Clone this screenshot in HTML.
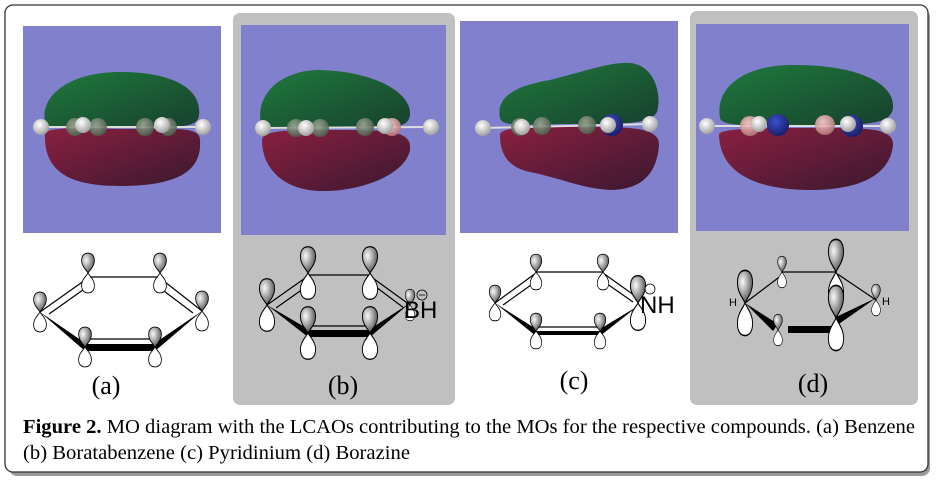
<!DOCTYPE html>
<html><head><meta charset="utf-8"><style>
html,body{margin:0;padding:0;background:#fff;width:936px;height:482px;overflow:hidden}
svg{display:block}
</style></head><body>
<svg width="936" height="482" viewBox="0 0 936 482" xmlns="http://www.w3.org/2000/svg">
<defs>
<radialGradient id="lg" cx="0.35" cy="0.35" r="0.8"><stop offset="0" stop-color="#fafafa"/><stop offset="0.5" stop-color="#999"/><stop offset="1" stop-color="#333"/></radialGradient>
<linearGradient id="gr" x1="0" y1="0" x2="1" y2="1"><stop offset="0" stop-color="#1f7a3c"/><stop offset="1" stop-color="#17402e"/></linearGradient>
<linearGradient id="rd" x1="0" y1="0" x2="1" y2="1"><stop offset="0" stop-color="#8a2040"/><stop offset="1" stop-color="#3a1830"/></linearGradient>
<radialGradient id="hw" cx="0.4" cy="0.35" r="0.7"><stop offset="0" stop-color="#fff"/><stop offset="1" stop-color="#9a9a9a"/></radialGradient>
<radialGradient id="cg" cx="0.4" cy="0.35" r="0.7"><stop offset="0" stop-color="#9aa894"/><stop offset="1" stop-color="#4a5a48"/></radialGradient>
<radialGradient id="nb" cx="0.4" cy="0.35" r="0.7"><stop offset="0" stop-color="#3a50d0"/><stop offset="1" stop-color="#1a1a60"/></radialGradient>
<radialGradient id="bp" cx="0.4" cy="0.35" r="0.7"><stop offset="0" stop-color="#ffd0d0"/><stop offset="1" stop-color="#b07070"/></radialGradient>
<g id="p">
<path d="M0,0 C-2,3 -8,7 -8,13 C-8,19 -4,21 0,21 C4,21 8,19 8,13 C8,7 2,3 0,0Z" fill="#fff" stroke="#000" stroke-width="1"/>
<path d="M0,0 C-2,-3 -8,-7 -8,-13 C-8,-19 -4,-21 0,-21 C4,-21 8,-19 8,-13 C8,-7 2,-3 0,0Z" fill="url(#lg)" stroke="#000" stroke-width="1"/>
</g>
</defs>
<rect x="9" y="9" width="921" height="467" rx="8" fill="#999"/>
<rect x="5" y="5" width="923" height="467" rx="8" fill="#fff" stroke="#333" stroke-width="1.3"/>
<rect x="233" y="13" width="222" height="392" rx="7" fill="#c0c0c0"/>
<rect x="690" y="11" width="228" height="394" rx="7" fill="#c0c0c0"/>
<rect x="23" y="26" width="198" height="207" fill="#8080cc"/>
<rect x="241" y="25" width="205" height="210" fill="#8080cc"/>
<rect x="460" y="21" width="218" height="212" fill="#8080cc"/>
<rect x="696" y="24" width="213" height="207" fill="#8080cc"/>

<path d="M45,122 C40,95 70,72 120,72 C175,72 202,90 199,115 C198,128 180,128 120,127 C70,127 47,130 45,122Z" fill="url(#gr)"/>
<path d="M45,135 C45,127 70,128 120,129 C175,129 200,126 200,140 C202,170 180,186 120,186 C70,186 44,172 45,135Z" fill="url(#rd)"/>
<line x1="41" y1="127" x2="203" y2="127" stroke="#ddd" stroke-width="2"/>
<circle cx="75" cy="127" r="9" fill="url(#cg)" opacity="0.9"/><circle cx="98" cy="127" r="9" fill="url(#cg)" opacity="0.9"/>
<circle cx="145" cy="127" r="9" fill="url(#cg)" opacity="0.9"/><circle cx="168" cy="127" r="9" fill="url(#cg)" opacity="0.9"/>
<circle cx="41" cy="127" r="8" fill="url(#hw)"/><circle cx="83" cy="125" r="8" fill="url(#hw)"/><circle cx="162" cy="125" r="8" fill="url(#hw)"/><circle cx="203" cy="127" r="8" fill="url(#hw)"/>

<path d="M261,124 C255,95 280,70 320,70 C380,72 412,95 410,115 C408,130 390,128 330,128 C290,128 263,132 261,124Z" fill="url(#gr)"/>
<path d="M262,140 C262,130 290,130 330,130 C390,130 412,130 410,150 C405,175 360,192 320,191 C285,190 262,170 262,140Z" fill="url(#rd)"/>
<line x1="263" y1="128" x2="431" y2="127" stroke="#ddd" stroke-width="2"/>
<circle cx="296" cy="128" r="9" fill="url(#cg)" opacity="0.9"/><circle cx="320" cy="128" r="9" fill="url(#cg)" opacity="0.9"/>
<circle cx="365" cy="127" r="9" fill="url(#cg)" opacity="0.9"/><circle cx="392" cy="127" r="9" fill="url(#bp)" opacity="0.9"/>
<circle cx="263" cy="128" r="8" fill="url(#hw)"/><circle cx="306" cy="128" r="8" fill="url(#hw)"/><circle cx="385" cy="126" r="8" fill="url(#hw)"/><circle cx="431" cy="127" r="8" fill="url(#hw)"/>

<path d="M500,118 C495,95 520,85 550,80 C590,70 610,62 630,63 C655,65 662,95 657,112 C650,125 620,124 570,124 C530,124 502,128 500,118Z" fill="url(#gr)"/>
<path d="M500,135 C500,127 530,127 570,127 C620,127 660,125 659,145 C657,175 640,190 610,190 C580,188 560,178 530,172 C505,167 500,150 500,135Z" fill="url(#rd)"/>
<line x1="483" y1="128" x2="650" y2="124" stroke="#ddd" stroke-width="2"/>
<circle cx="520" cy="127" r="9" fill="url(#cg)" opacity="0.9"/><circle cx="542" cy="126" r="9" fill="url(#cg)" opacity="0.9"/>
<circle cx="587" cy="125" r="9" fill="url(#cg)" opacity="0.9"/><circle cx="612" cy="125" r="11" fill="url(#nb)"/>
<circle cx="483" cy="128" r="8" fill="url(#hw)"/><circle cx="522" cy="127" r="8" fill="url(#hw)"/><circle cx="608" cy="125" r="8" fill="url(#hw)"/><circle cx="650" cy="124" r="8" fill="url(#hw)"/>

<path d="M720,118 C715,90 740,66 790,65 C850,64 895,80 893,108 C891,126 860,125 810,125 C760,125 722,128 720,118Z" fill="url(#gr)"/>
<path d="M719,135 C719,128 760,128 810,128 C860,128 894,126 893,145 C890,175 860,190 810,190 C760,190 720,175 719,135Z" fill="url(#rd)"/>
<line x1="707" y1="126" x2="888" y2="126" stroke="#ddd" stroke-width="2"/>
<circle cx="750" cy="126" r="10" fill="url(#bp)" opacity="0.9"/><circle cx="778" cy="125" r="11" fill="url(#nb)"/>
<circle cx="825" cy="125" r="10" fill="url(#bp)" opacity="0.9"/><circle cx="852" cy="126" r="11" fill="url(#nb)"/>
<circle cx="707" cy="126" r="8" fill="url(#hw)"/><circle cx="759" cy="124" r="8" fill="url(#hw)"/><circle cx="848" cy="124" r="8" fill="url(#hw)"/><circle cx="888" cy="126" r="8" fill="url(#hw)"/>

<g stroke="#000" fill="none" stroke-width="1.2">
<line x1="88" y1="277" x2="160" y2="277"/>
<line x1="40" y1="312" x2="88" y2="278"/><line x1="49" y1="314" x2="90" y2="285"/>
<line x1="160" y1="278" x2="202" y2="311"/><line x1="156" y1="285" x2="193" y2="313"/>
<line x1="85" y1="339" x2="155" y2="339"/>
</g>
<polygon points="40,312 85,343 85,351" fill="#000"/>
<polygon points="85,344 155,344 155,351 85,351" fill="#000"/>
<polygon points="155,343 202,311 155,351" fill="#000"/>
<use href="#p" transform="translate(88,273) scale(0.8,0.95)"/>
<use href="#p" transform="translate(160,273) scale(0.8,0.95)"/>
<use href="#p" transform="translate(40,312) scale(0.8,0.95)"/>
<use href="#p" transform="translate(202,311) scale(0.8,0.95)"/>
<use href="#p" transform="translate(85,347) scale(0.8,0.95)"/>
<use href="#p" transform="translate(155,347) scale(0.8,0.95)"/>

<g stroke="#000" fill="none" stroke-width="1.2">
<line x1="308" y1="275" x2="370" y2="275"/>
<line x1="267" y1="305" x2="308" y2="276"/><line x1="276" y1="308" x2="310" y2="284"/>
<line x1="370" y1="276" x2="410" y2="305"/><line x1="372" y1="284" x2="404" y2="308"/>
<line x1="308" y1="326" x2="370" y2="326"/>
</g>
<polygon points="267,305 308,329 308,337" fill="#000"/>
<polygon points="308,330 370,330 370,337 308,337" fill="#000"/>
<polygon points="370,329 410,303 370,337" fill="#000"/>
<use href="#p" transform="translate(308,273) scale(0.95,1.25)"/>
<use href="#p" transform="translate(370,273) scale(0.95,1.25)"/>
<use href="#p" transform="translate(267,305) scale(0.95,1.25)"/>
<use href="#p" transform="translate(308,333) scale(0.95,1.25)"/>
<use href="#p" transform="translate(370,333) scale(0.95,1.25)"/>
<use href="#p" transform="translate(410,305) scale(0.6,0.75)"/>
<text x="404" y="318" font-family="Liberation Sans, sans-serif" font-size="24" fill="#000">BH</text>
<circle cx="422" cy="295" r="5" fill="none" stroke="#000" stroke-width="0.8"/><line x1="419" y1="295" x2="425" y2="295" stroke="#000" stroke-width="0.8"/>

<g stroke="#000" fill="none" stroke-width="1.2">
<line x1="536" y1="272" x2="603" y2="272"/>
<line x1="495" y1="303" x2="536" y2="273"/><line x1="503" y1="305" x2="538" y2="280"/>
<line x1="603" y1="273" x2="638" y2="298"/><line x1="603" y1="281" x2="633" y2="302"/>
<line x1="536" y1="327" x2="600" y2="327"/>
</g>
<polygon points="495,303 536,329 536,336" fill="#000"/>
<polygon points="536,331 600,331 600,335 536,335" fill="#000"/>
<polygon points="600,329 638,306 600,336" fill="#000"/>
<use href="#p" transform="translate(536,272) scale(0.72,0.85)"/>
<use href="#p" transform="translate(603,272) scale(0.72,0.85)"/>
<use href="#p" transform="translate(495,303) scale(0.72,0.85)"/>
<use href="#p" transform="translate(536,331) scale(0.72,0.85)"/>
<use href="#p" transform="translate(600,331) scale(0.72,0.85)"/>
<use href="#p" transform="translate(638,303) scale(0.95,1.3)"/>
<text x="640" y="313" font-family="Liberation Sans, sans-serif" font-size="24" fill="#000">NH</text>
<circle cx="650" cy="289" r="5" fill="#fff" stroke="#000" stroke-width="0.8"/>

<g stroke="#000" fill="none" stroke-width="1.2">
<line x1="782" y1="272" x2="836" y2="272"/>
<line x1="745" y1="303" x2="782" y2="275"/>
<line x1="836" y1="273" x2="876" y2="300"/>
</g>
<polygon points="745,303 778,324 773,331" fill="#000"/>
<rect x="788" y="326" width="48" height="7" fill="#000"/>
<polygon points="836,317 876,298 836,326" fill="#000"/>
<use href="#p" transform="translate(782,272) scale(0.55,0.75)"/>
<use href="#p" transform="translate(836,272) scale(0.95,1.55)"/>
<use href="#p" transform="translate(745,303) scale(0.95,1.55)"/>
<use href="#p" transform="translate(876,300) scale(0.55,0.75)"/>
<use href="#p" transform="translate(778,330) scale(0.55,0.75)"/>
<use href="#p" transform="translate(836,318) scale(0.95,1.55)"/>
<text x="729" y="306" font-family="Liberation Sans, sans-serif" font-size="11" fill="#000">H</text>
<text x="882" y="305" font-family="Liberation Sans, sans-serif" font-size="11" fill="#000">H</text>

<g font-family="Liberation Serif, serif" font-size="26" fill="#000" text-anchor="middle">
<text x="106" y="394">(a)</text>
<text x="343" y="394">(b)</text>
<text x="574" y="389">(c)</text>
<text x="813" y="392">(d)</text>
</g>
<g font-family="Liberation Serif, serif" font-size="20.5" fill="#000">
<text x="23" y="433" textLength="892" lengthAdjust="spacingAndGlyphs"><tspan font-weight="bold">Figure 2.</tspan> MO diagram with the LCAOs contributing to the MOs for the respective compounds. (a) Benzene</text>
<text x="23" y="459" textLength="387" lengthAdjust="spacingAndGlyphs">(b) Boratabenzene (c) Pyridinium (d) Borazine</text>
</g>
</svg>
</body></html>
